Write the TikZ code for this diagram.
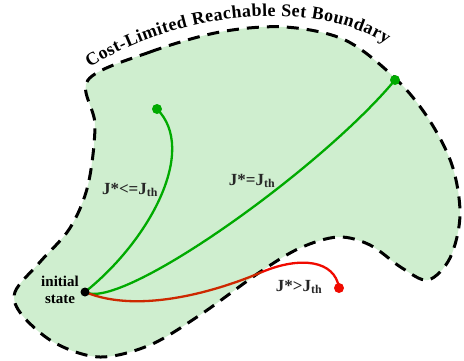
\documentclass[tikz,border=0pt]{standalone}
\usepackage{fontspec}
\setmainfont{Liberation Serif}
\usepackage{tikz}
\usetikzlibrary{decorations.text}
\definecolor{setgreen}{RGB}{207,238,207}
\definecolor{pathgreen}{RGB}{0,170,0}
\definecolor{pathred}{RGB}{240,10,0}
\definecolor{darkred}{RGB}{205,40,0}

\begin{document}
\begin{tikzpicture}[x=1pt, y=-1pt,
    lbl/.style={font=\fontsize{17}{17}\selectfont\bfseries, text=black!85},
    traj/.style={line width=2.3pt}]
  \useasboundingbox (0,0) rectangle (464,360);

  % Reachable set
  \draw[fill=setgreen, line width=3pt, dash pattern=on 12pt off 8pt]
    plot[smooth cycle, tension=0.55] coordinates {
      (88,80) (150,52) (220,32) (285,27) (345,40) (395,78) (428,118)
      (452,165) (460,215) (450,258) (428,280) (402,268) (370,245)
      (338,237) (300,248) (260,272) (200,315) (150,345) (100,357)
      (55,343) (22,315) (15,292) (40,262) (70,228) (88,185) (95,125)};

  % Boundary label
  \path[decorate, decoration={text along path, text align=fit to path,
      text={|\fontsize{18}{18}\selectfont\bfseries|Cost-Limited Reachable Set Boundary}}]
    (90,68) .. controls (170,15) and (310,-5) .. (386,44);

  % Trajectory end points
  \coordinate (init) at (85,292);
  \coordinate (endA) at (157,109);
  \coordinate (endB) at (395,80);
  \coordinate (endR) at (339,288);
  \coordinate (exitR) at (262,272);

  % Trajectories
  \draw[traj, pathgreen] (init) .. controls (150,240) and (198,150) .. (endA);
  \draw[traj, pathgreen] (init) .. controls (120,312) and (320,170) .. (endB);
  \draw[traj, darkred] (init) .. controls (140,315) and (220,290) .. (exitR);
  \draw[traj, pathred] (exitR) .. controls (300,256) and (335,260) .. (endR);

  \fill[pathgreen] (endA) circle (5);
  \fill[pathgreen] (endB) circle (5);
  \fill[pathred] (endR) circle (5);
  \fill[black] (init) circle (4.5);

  % Labels
  \node[lbl] (lblA) at (130,190) {J*<=J\textsubscript{th}};
  \node[lbl] (lblB) at (252,181) {J*=J\textsubscript{th}};
  \node[lbl] (lblR) at (299,287) {J*>J\textsubscript{th}};
  \node[font=\fontsize{15}{17}\selectfont\bfseries, align=center] (lblI) at (60,290) {initial\\state};
\end{tikzpicture}
\end{document}
